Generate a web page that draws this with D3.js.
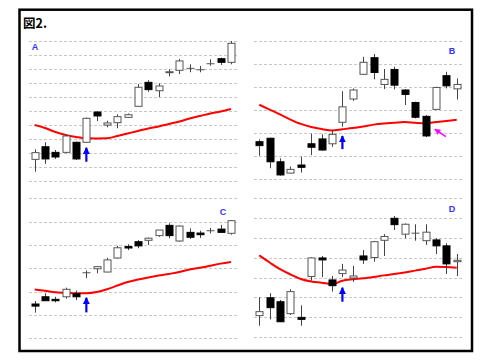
<!DOCTYPE html>
<html>
<head>
<meta charset="utf-8">
<script src="https://cdn.jsdelivr.net/npm/d3@7"></script>
<style>
  body { margin: 0; background: #fff; }
  svg { display: block; }
</style>
</head>
<body>
<div id="chart"></div>
<script>
// candles: [open, high, low, close]
const candlesA = [[15.1,22.3,6.3,19.9],[24.1,27.3,11.8,15.4],[20.1,21.8,15.4,16.8],[20.1,33.0,19.4,31.8],[27.3,27.7,14.6,15.4],
  [27.3,45.0,26.8,44.4],[48.9,49.6,42.5,46.1],[39.6,42.7,38.0,41.1],[41.3,47.3,37.3,45.6],[45.1,47.9,44.6,47.0],
  [53.0,68.9,52.9,66.6],[70.1,71.6,63.4,64.9],[64.1,69.4,59.6,67.5],[77.0,79.4,74.4,77.7],[78.7,86.8,76.1,85.4],
  [80.1,83.0,77.3,80.1],[79.1,81.8,77.3,79.1],[83.4,86.6,82.0,83.4],[87.0,87.7,82.5,84.4],[84.4,99.6,83.0,98.0]];
const candlesB = [[16.2,17.2,10.1,14.5],[17.7,17.9,4.7,7.5],[7.5,9.0,1.5,1.8],[2.6,5.4,2.5,4.2],[6.1,9.7,2.8,5.1],
  [15.3,19.7,10.4,13.8],[17.4,19.4,12.3,12.6],[15.3,21.3,14.0,19.4],[24.6,38.1,22.7,31.3],[34.7,39.3,33.9,38.6],
  [45.4,53.0,45.1,50.6],[52.6,54.2,43.2,46.2],[41.0,47.7,39.0,43.2],[47.5,48.7,38.9,40.7],[38.6,38.9,32.1,36.7],
  [33.2,33.5,26.3,26.8],[27.2,27.7,18.2,18.7],[30.2,40.0,29.9,39.7],[44.8,46.5,39.3,40.4],[39.1,43.6,34.5,41.0]];
const candlesC = [[14.7,16.0,11.0,13.8],[17.8,19.3,16.0,16.1],[16.7,17.8,15.4,16.1],[17.8,21.7,17.0,21.0],[19.1,20.4,16.4,17.8],
  [28.1,29.1,25.8,28.1],[29.8,31.0,27.9,30.7],[28.4,34.5,28.3,33.6],[34.4,39.6,34.1,38.8],[39.3,40.3,37.8,38.7],
  [41.4,42.1,38.6,39.6],[42.0,43.1,40.0,42.9],[44.0,46.4,43.5,46.4],[48.4,49.3,42.9,44.0],[41.7,48.4,41.4,48.1],
  [45.4,47.1,42.6,43.3],[45.1,46.1,43.0,44.4],[46.1,47.3,45.0,46.1],[46.8,48.6,45.3,45.4],[45.0,50.7,44.4,50.4]];
const candlesD = [[10.8,20.1,5.7,12.8],[19.8,22.1,8.9,14.8],[17.8,18.7,7.5,7.7],[11.8,24.1,11.1,22.9],[9.9,16.0,5.7,8.9],
  [30.5,40.2,28.4,39.9],[39.9,40.9,30.2,38.9],[28.8,30.8,22.9,25.9],[32.0,36.9,30.2,33.8],[29.8,35.9,27.8,30.8],
  [40.9,43.9,36.9,38.9],[40.1,48.5,38.0,48.1],[48.8,51.9,40.9,50.7],[59.9,61.1,54.0,56.7],[51.9,57.3,49.8,56.9],
  [52.4,56.9,48.6,52.4],[48.6,56.9,46.5,52.9],[49.0,49.8,41.9,46.0],[46.0,47.3,31.8,36.9],[38.0,41.9,30.8,38.7]];

// moving averages
const maA = [39.6,37.5,34.6,32.5,31.1,30.1,30.0,30.1,31.8,33.6,35.4,37.1,38.6,40.4,42.1,44.3,46.1,47.9,49.3,51.1];
const maB = [32.2,30.1,28.0,25.8,23.9,22.6,21.7,21.1,21.6,22.1,22.8,23.6,24.1,24.4,24.7,24.4,24.2,24.7,25.2,25.7];
const maC = [20.9,20.4,19.7,19.5,19.3,19.3,19.8,21.0,22.6,24.1,25.2,26.1,26.9,27.6,28.4,29.5,30.2,31.1,32.0,32.7];
const maD = [41.2,37.6,34.2,31.6,29.3,28.0,27.4,26.7,28.4,29.1,29.6,30.3,31.1,31.8,32.6,33.5,34.4,35.5,35.3,35.0];

// signal arrows: [candle index, tail value, tip value]
const arrowA = [5, 13.4, 24.1];
const arrowB = [8, 13.0, 19.1];
const arrowC = [5, 11.1, 17.8];
const arrowD = [8, 17.8, 25.4];
const pinkArrowB = [[17.96, 18.4], [16.9, 21.6]];

const labels = ["A", "B", "C", "D"];
const title = "図2.";

const width = 480, height = 360;
const svg = d3.select("#chart").append("svg")
  .attr("width", width).attr("height", height)
  .attr("font-family", "Arial, 'Liberation Sans', sans-serif");

const defs = svg.append("defs");
defs.append("marker").attr("id", "headBlue")
  .attr("viewBox", "0 0 10 10").attr("refX", 9).attr("refY", 5)
  .attr("markerWidth", 3.2).attr("markerHeight", 3.2).attr("orient", "auto")
  .append("path").attr("d", "M0,0L10,5L0,10Z").attr("fill", "#0000ff");
defs.append("marker").attr("id", "headPink")
  .attr("viewBox", "0 0 10 10").attr("refX", 9).attr("refY", 5)
  .attr("markerWidth", 4).attr("markerHeight", 4).attr("orient", "auto")
  .append("path").attr("d", "M0,0L10,5L0,10Z").attr("fill", "#ff00ff");

svg.append("rect")
  .attr("x", 19.5).attr("y", 9.7).attr("width", 452.5).attr("height", 341.3)
  .attr("fill", "#fff").attr("stroke", "#000").attr("stroke-width", 2.5);

svg.append("text").attr("x", 23).attr("y", 27.5)
  .attr("font-size", 12.5).attr("font-weight", "bold")
  .attr("font-family", "'Noto Sans CJK JP', sans-serif")
  .text(title);

const panels = [
  { data: candlesA, ma: maA, arrow: arrowA, label: labels[0], xr: [34.7, 231], gx: [29, 237], yd: [0, 100], yr: [180.5, 40.5], lx: 35, ly: 50 },
  { data: candlesB, ma: maB, arrow: arrowB, label: labels[1], xr: [259.3, 456.7], gx: [254, 463], yd: [0, 60], yr: [179.1, 40.6], lx: 452, ly: 54 },
  { data: candlesC, ma: maC, arrow: arrowC, label: labels[2], xr: [34.7, 231], gx: [29, 237], yd: [0, 60], yr: [338.3, 198.3], lx: 223, ly: 215 },
  { data: candlesD, ma: maD, arrow: arrowD, label: labels[3], xr: [259.3, 456.7], gx: [254, 463], yd: [0, 70], yr: [337, 198.3], lx: 452, ly: 212 }
];

const bodyW = 7;

panels.forEach((p, pi) => {
  const x = d3.scaleLinear().domain([0, p.data.length - 1]).range(p.xr);
  const y = d3.scaleLinear().domain(p.yd).range(p.yr);
  const g = svg.append("g");

  // dashed grid
  g.append("g").selectAll("line")
    .data(d3.range(p.yd[0], p.yd[1] + 1, 10))
    .join("line")
    .attr("x1", p.gx[0]).attr("x2", p.gx[1])
    .attr("y1", d => Math.round(y(d)) + 0.5).attr("y2", d => Math.round(y(d)) + 0.5)
    .attr("stroke", "#c8c8c8").attr("stroke-width", 1)
    .attr("stroke-dasharray", "3,2");

  // label
  g.append("text").attr("x", p.lx).attr("y", p.ly)
    .attr("text-anchor", "middle").attr("font-size", 9).attr("font-weight", "bold")
    .attr("fill", "#3333ff").text(p.label);

  // moving average
  g.append("path")
    .datum(p.ma)
    .attr("fill", "none").attr("stroke", "#ff0000").attr("stroke-width", 2)
    .attr("d", d3.line().x((d, i) => x(i)).y(d => y(d)).curve(d3.curveMonotoneX));

  const c = g.append("g").selectAll("g").data(p.data).join("g");
  c.append("line")
    .attr("x1", (d, i) => Math.round(x(i)) + 0.5).attr("x2", (d, i) => Math.round(x(i)) + 0.5)
    .attr("y1", d => y(d[1])).attr("y2", d => y(d[2]))
    .attr("stroke", "#444").attr("stroke-width", 1);
  c.append("rect")
    .attr("x", (d, i) => Math.round(x(i)) + 0.5 - bodyW / 2)
    .attr("width", bodyW)
    .attr("y", d => y(Math.max(d[0], d[3])))
    .attr("height", d => Math.max(0.01, Math.abs(y(d[0]) - y(d[3]))))
    .attr("fill", d => d[3] < d[0] ? "#000" : "#fff")
    .attr("stroke", d => d[3] < d[0] ? "#000" : "#555")
    .attr("stroke-width", 1);

  // blue signal arrow
  const a = p.arrow;
  g.append("line")
    .attr("x1", x(a[0])).attr("x2", x(a[0]))
    .attr("y1", y(a[1])).attr("y2", y(a[2]) + 1)
    .attr("stroke", "#0000ff").attr("stroke-width", 2.2)
    .attr("marker-end", "url(#headBlue)");

  if (pi === 1) {
    g.append("line")
      .attr("x1", x(pinkArrowB[0][0])).attr("y1", y(pinkArrowB[0][1]))
      .attr("x2", x(pinkArrowB[1][0])).attr("y2", y(pinkArrowB[1][1]))
      .attr("stroke", "#ff00ff").attr("stroke-width", 1.5)
      .attr("marker-end", "url(#headPink)");
  }
});
</script>
</body>
</html>
